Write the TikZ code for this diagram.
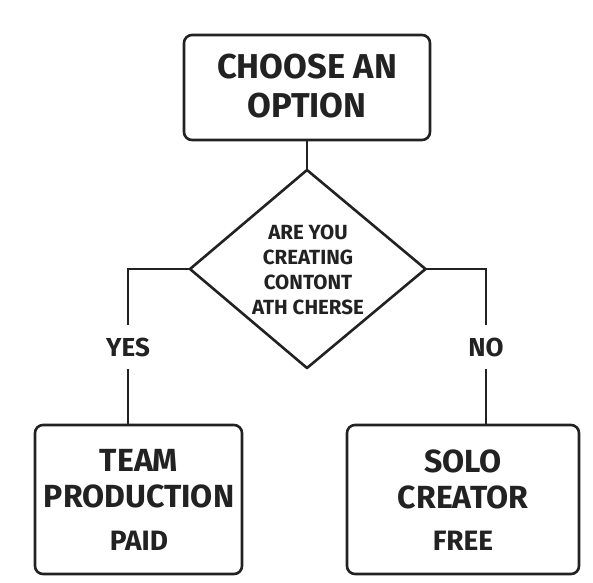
\documentclass[tikz,border=0pt]{standalone}
\usepackage{fontspec}
\setmainfont{Fira Sans}
\usetikzlibrary{shapes.geometric}
\definecolor{ink}{HTML}{222222}
\tikzset{
  box/.style={draw=ink, line width=2.6pt, rounded corners=8pt, inner sep=0pt},
  lbl/.style={text=ink, font=\bfseries, align=center, inner sep=0pt},
  conn/.style={draw=ink, line width=2.6pt},
}
\begin{document}
\begin{tikzpicture}[x=1pt,y=-1pt]
\useasboundingbox (0,0) rectangle (593,582);
\node[box, minimum width=246pt, minimum height=105pt] (top) at (307,87.5) {};
\node[lbl, font=\bfseries\fontsize{34.5}{39}\selectfont] (toptext) at (307,86.5) {CHOOSE AN\\OPTION};
\draw[draw=ink, line width=2.6pt, line join=round, fill=white] (307,170) -- (425.5,269) -- (307,368) -- (190,269) -- cycle;
\coordinate (dtop) at (307,170);
\coordinate (dleft) at (190,269);
\coordinate (dright) at (425.5,269);
\node[lbl, font=\bfseries\fontsize{20.5}{25}\selectfont] (q) at (308,269.5) {ARE YOU\\CREATING\\CONTONT\\ATH CHERSE};
\node[box, minimum width=207pt, minimum height=149pt] (team) at (138.5,499.5) {};
\node[box, minimum width=232pt, minimum height=149pt] (solo) at (463,499.5) {};
\node[lbl, font=\bfseries\fontsize{32}{36}\selectfont] (teamt) at (139,479) {TEAM\\PRODUCTION};
\node[lbl, font=\bfseries\fontsize{28}{32}\selectfont] (paid) at (139,540.5) {PAID};
\node[lbl, font=\bfseries\fontsize{32}{36}\selectfont] (solot) at (463,479) {SOLO\\CREATOR};
\node[lbl, font=\bfseries\fontsize{28}{32}\selectfont] (free) at (463,540.5) {FREE};
\node[lbl, font=\bfseries\fontsize{26}{30}\selectfont] (yes) at (128,347.5) {YES};
\node[lbl, font=\bfseries\fontsize{26}{30}\selectfont] (no) at (486,347.5) {NO};
\draw[conn] (top.south) -- (dtop);
\draw[conn] (dleft) -| ([yshift=13pt]yes.north);
\draw[conn] ([yshift=-12pt]yes.south) -- (team.north -| yes);
\draw[conn] (dright) -| ([yshift=13pt]no.north);
\draw[conn] ([yshift=-12pt]no.south) -- (solo.north -| no);
\end{tikzpicture}
\end{document}
